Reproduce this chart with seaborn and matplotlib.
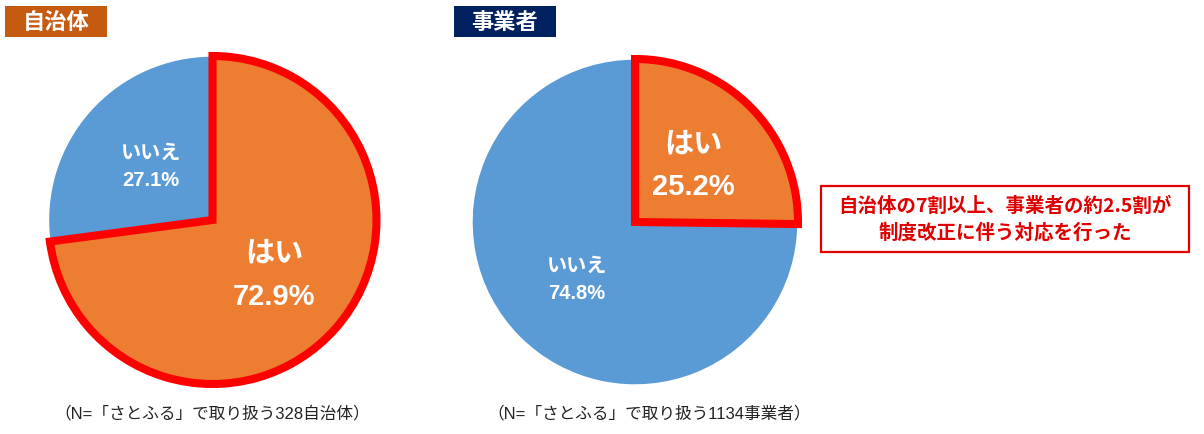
import numpy as np
import matplotlib.pyplot as plt
import seaborn as sns
from matplotlib.patches import Rectangle

sns.set_style("white")
plt.rcParams['font.family'] = ['Noto Sans CJK JP', 'DejaVu Sans']
latin_jp = ['Liberation Sans', 'Noto Sans CJK JP']

# データ
answers = ['はい', 'いいえ']
jichitai_pct = [72.9, 27.1]
jigyosha_pct = [25.2, 74.8]
titles = ['自治体', '事業者']
notes = ['（N=「さとふる」で取り扱う328自治体）', '（N=「さとふる」で取り扱う1134事業者）']
callout = '自治体の7割以上、事業者の約2.5割が\n制度改正に伴う対応を行った'

W, H = 1204, 435
orange = '#ED7D31'
blue = '#5B9BD5'
red = '#FF0000'

fig = plt.figure(figsize=(W / 100, H / 100), dpi=100)
ax = fig.add_axes([0, 0, 1, 1])


def draw_pie(values, cx, cy, r, title, title_bg, title_x, note, note_x):
    # y はピクセル座標（上から）なので H - y に変換
    wedges, _ = ax.pie(values, colors=[orange, blue], startangle=90,
                       counterclock=False, center=(cx, H - cy), radius=r,
                       frame=False)
    # 「はい」を赤枠で強調
    wedges[0].set_edgecolor(red)
    wedges[0].set_linewidth(5.8)
    wedges[0].set_joinstyle('miter')
    wedges[0].set_zorder(3)
    wedges[1].set_zorder(2)
    for i, w in enumerate(wedges):
        mid = np.deg2rad((w.theta1 + w.theta2) / 2)
        x = cx + 0.5 * r * np.cos(mid)
        y = H - cy + 0.5 * r * np.sin(mid)
        if i == 0:
            size, ls = 21, 1.7
        else:
            size, ls = 14.5, 1.55
        ax.text(x, y, f'{answers[i]}\n{values[i]}%', ha='center', va='center',
                fontsize=size, fontweight='bold', color='white',
                linespacing=ls, zorder=5, family=latin_jp)
    # タイトルボックス
    ax.add_patch(Rectangle((title_x, H - 38), 102, 31, facecolor=title_bg,
                           edgecolor='none', zorder=4))
    ax.text(title_x + 51, H - 22.5, title, ha='center', va='center',
            fontsize=16, fontweight='bold', color='white', zorder=5)
    ax.text(note_x, H - 413, note, ha='center', va='center', fontsize=12,
            color='#222222', family=latin_jp)


draw_pie(jichitai_pct, 212.5, 221, 164, titles[0], '#C55A11', 5, notes[0], 212)
draw_pie(jigyosha_pct, 635, 223, 163, titles[1], '#002060', 454, notes[1], 649)

# 吹き出し
ax.add_patch(Rectangle((821, H - 253), 368, 66, facecolor='white',
                       edgecolor='#E00000', linewidth=1.6, zorder=4))
ax.text(1005, H - 220, callout, ha='center', va='center', fontsize=14,
        fontweight='bold', color='#E00000', linespacing=1.45, zorder=5)

ax.set_xlim(0, W)
ax.set_ylim(0, H)
ax.set_aspect('auto')
ax.axis('off')

fig.savefig('out.png', dpi=100)
